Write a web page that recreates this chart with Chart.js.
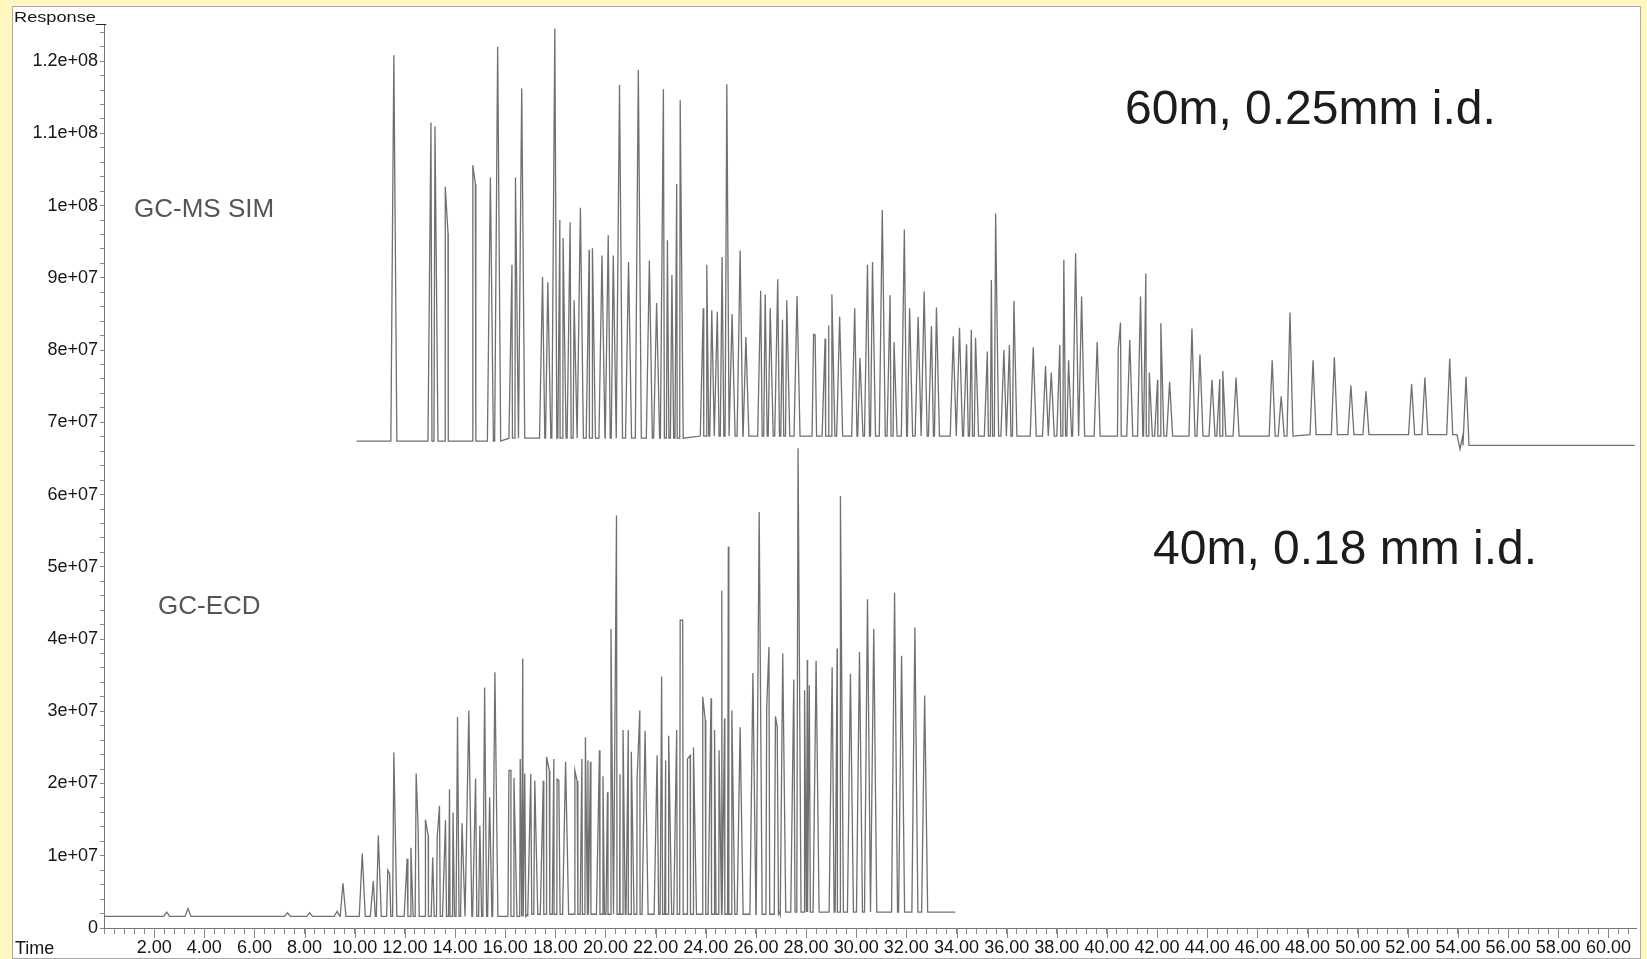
<!DOCTYPE html>
<html>
<head>
<meta charset="utf-8">
<title>GC-MS SIM / GC-ECD</title>
<script src="https://cdn.jsdelivr.net/npm/chart.js@4.4.1/dist/chart.umd.min.js"></script>
<style>
  html, body { margin: 0; padding: 0; }
  body { width: 1647px; height: 959px; background: #fff7bf; position: relative; overflow: hidden; }
  #panel { position: absolute; left: 12px; top: 6px; width: 1627px; height: 951px; background: #fff; border: 1px solid #a9a9a9; }
  #wrap { position: relative; width: 1627px; height: 951px; }
</style>
</head>
<body>
<div id="panel"><div id="wrap"><canvas id="gc"></canvas></div></div>
<script>
// retention time (min) and apex response (millions of counts)
const msPeakTimes = [11.56, 13.04, 13.20, 13.61, 13.72, 14.71, 14.81, 15.41, 15.70, 16.27, 16.41, 16.66,
  17.49, 17.70, 17.98, 18.18, 18.31, 18.59, 18.75, 19.00, 19.35, 19.48, 19.86, 20.11, 20.31, 20.56,
  20.92, 21.31, 21.75, 22.04, 22.31, 22.47, 22.65, 22.84, 22.98, 23.90, 24.04, 24.24, 24.46, 24.65,
  24.84, 25.05, 25.37, 25.60, 26.19, 26.37, 26.57, 26.87, 27.06, 27.23, 27.64, 28.30, 28.36, 28.76,
  28.90, 29.03, 29.34, 29.94, 30.15, 30.45, 30.65, 31.04, 31.35, 31.51, 31.92, 32.13, 32.47, 32.71,
  33.00, 33.20, 33.87, 34.12, 34.40, 34.59, 34.76, 35.23, 35.39, 35.56, 35.89, 36.11, 36.29, 37.06,
  37.55, 37.78, 38.12, 38.28, 38.47, 38.75, 38.99, 39.61, 40.45, 40.54, 40.91, 41.34, 41.55, 41.69,
  42.02, 42.15, 42.50, 43.39, 43.71, 44.19, 44.50, 44.62, 45.15, 46.59, 46.95, 47.30, 48.22, 49.07,
  49.73, 50.33, 52.15, 52.68, 53.67, 54.08, 54.32];
const msPeakHeights = [120.8, 111.5, 111.0, 102.6, 96.2, 105.6, 103.0, 103.9, 122.0, 91.8, 103.9, 116.2,
  90.1, 89.4, 124.5, 98.0, 95.5, 97.7, 86.9, 99.7, 93.9, 94.1, 93.1, 95.9, 93.1, 116.7,
  92.2, 118.8, 92.4, 86.5, 116.1, 95.2, 90.4, 103.0, 114.6, 85.8, 91.8, 85.5, 85.3, 92.9,
  116.8, 85.0, 93.8, 81.8, 88.2, 87.7, 85.8, 89.8, 84.2, 86.9, 87.5, 82.2, 82.1, 81.6,
  83.4, 87.7, 84.6, 85.8, 78.9, 91.8, 92.2, 99.4, 87.6, 81.1, 96.7, 85.8, 84.6, 88.1,
  83.3, 85.9, 81.9, 83.1, 80.8, 82.8, 81.7, 79.8, 89.7, 98.9, 80.0, 80.7, 86.8, 80.4,
  77.8, 76.9, 80.7, 92.5, 78.6, 93.4, 87.4, 81.1, 80.1, 83.8, 81.4, 87.4, 90.6, 76.9,
  75.9, 83.7, 75.6, 83.0, 79.4, 75.9, 76.0, 77.1, 76.2, 78.6, 73.6, 85.2, 78.6, 79.0,
  75.1, 74.3, 75.3, 76.2, 78.8, 66.3, 76.3];
// baseline level of the MS trace from each time on
const msBaseTimes = [10.07, 16.0, 23.0, 48.0, 54.1];
const msBaseLevels = [67.4, 67.8, 68.1, 68.3, 66.8];
const msRange = [10.07, 61.05];

const ecdPeakTimes = [2.50, 3.35, 7.32, 8.20, 9.30, 9.53, 10.30, 10.74, 10.94, 11.32, 11.39, 11.56,
  12.09, 12.24, 12.45, 12.53, 12.82, 12.93, 13.11, 13.29, 13.38, 13.62, 13.78, 13.92, 14.10, 14.28,
  14.55, 14.82, 14.99, 15.18, 15.38, 15.59, 16.15, 16.23, 16.35, 16.60, 16.70, 16.78, 17.02, 17.18,
  17.52, 17.66, 17.76, 17.94, 18.07, 18.14, 18.41, 18.78, 18.87, 19.06, 19.20, 19.30, 19.40, 19.76,
  19.90, 20.08, 20.22, 20.44, 20.58, 20.70, 20.91, 21.03, 21.26, 21.37, 21.58, 22.06, 22.24, 22.40,
  22.52, 22.84, 22.98, 23.08, 23.27, 23.38, 23.51, 23.88, 23.98, 24.21, 24.35, 24.53, 24.64, 24.75,
  24.90, 25.04, 25.37, 25.88, 26.13, 26.43, 26.52, 26.78, 26.85, 27.07, 27.51, 27.68, 27.94, 28.05,
  28.13, 28.40, 29.04, 29.24, 29.37, 29.77, 30.13, 30.45, 30.70, 31.53, 31.81, 32.34, 32.73];
const ecdPeakHeights = [2.2, 2.7, 2.1, 2.1, 2.3, 6.2, 10.3, 6.5, 12.8, 8.0, 7.5, 24.3,
  9.6, 11.1, 21.4, 13.7, 15.0, 12.8, 9.8, 12.6, 16.9, 14.9, 19.2, 16.0, 29.2, 14.5,
  30.1, 20.7, 14.2, 33.3, 18.1, 35.4, 21.8, 21.8, 20.8, 23.4, 37.3, 21.4, 21.3, 20.4,
  20.4, 23.7, 21.8, 23.4, 20.6, 20.4, 23.0, 21.8, 20.3, 23.4, 26.4, 23.2, 23.0, 24.6,
  21.0, 18.8, 41.4, 57.1, 21.3, 27.4, 27.4, 24.4, 20.5, 30.1, 27.3, 23.9, 34.8, 23.2,
  26.6, 27.4, 42.6, 42.6, 23.4, 23.9, 25.0, 32.0, 28.8, 31.8, 27.4, 24.6, 46.7, 29.0,
  52.8, 30.1, 27.8, 35.3, 57.6, 30.4, 38.9, 29.3, 27.8, 38.0, 34.4, 66.4, 32.9, 37.1,
  33.6, 37.0, 36.1, 38.7, 59.8, 35.2, 38.2, 45.5, 41.4, 46.4, 37.7, 41.6, 32.2];
const ecdBaseTimes = [0, 17.0, 27.0];
const ecdBaseLevels = [1.6, 1.9, 2.2];
const ecdRange = [0, 33.95];

// axis ticks: minor marks every 2e6 / 0.4 min, labels every 1e7 / 2 min
const yTickStep = 2e6;
const yTickTop = 1.24e8;
const yLabelEvery = 1e7;
const xTickStep = 0.4;
const xLabelEvery = 2;

const PEAK_HALF_WIDTH = 0.12;
const LINE_COLOR = '#707070';
const TEXT_COLOR = '#161616';
const FONT = "'Liberation Sans', Arial, sans-serif";

// each peak becomes foot - apex - foot on its baseline level
function buildTrace(range, baseTimes, baseLevels, peakTimes, peakHeights) {
  const levelAt = t => {
    let lv = baseLevels[0];
    baseTimes.forEach((bt, i) => { if (t >= bt) lv = baseLevels[i]; });
    return lv;
  };
  const pts = [{x: range[0], y: levelAt(range[0])}];
  peakTimes.forEach((t, i) => {
    const b = levelAt(t);
    pts.push({x: t - PEAK_HALF_WIDTH, y: b}, {x: t, y: peakHeights[i]}, {x: t + PEAK_HALF_WIDTH, y: b});
  });
  pts.push({x: range[1], y: levelAt(range[1])});
  return pts.sort((a, b) => a.x - b.x).map(p => ({x: p.x, y: p.y * 1e6}));
}

function sciLabel(v) {
  if (v === 0) return '0';
  const [m, e] = v.toExponential().split('e');
  return m + 'e' + e[0] + e.slice(1).padStart(2, '0');
}

const yTicks = [];
for (let k = 0; k * yTickStep <= yTickTop; k++) yTicks.push(k * yTickStep);

const decorations = {
  id: 'decorations',
  afterDraw(chart) {
    const ctx = chart.ctx;
    const xs = chart.scales.x;
    const bottom = chart.chartArea.bottom;
    ctx.save();
    // longer marks under the labelled minutes
    ctx.strokeStyle = '#888';
    ctx.lineWidth = 1;
    ctx.beginPath();
    for (let t = xLabelEvery; t <= 60; t += xLabelEvery) {
      const px = Math.round(xs.getPixelForValue(t)) + 0.5;
      ctx.moveTo(px, bottom);
      ctx.lineTo(px, bottom + 10);
    }
    ctx.stroke();

    ctx.fillStyle = TEXT_COLOR;
    ctx.font = '18px ' + FONT;
    ctx.textBaseline = 'middle';
    ctx.fillText('Time', 2, 942);

    // small, wide caption above the response axis
    ctx.save();
    ctx.font = '14px ' + FONT;
    ctx.textBaseline = 'alphabetic';
    const w = ctx.measureText('Response_').width;
    ctx.translate(1, 15);
    ctx.scale(92 / w, 1);
    ctx.fillText('Response_', 0, 0);
    ctx.restore();

    ctx.textBaseline = 'alphabetic';
    ctx.fillStyle = '#1c1c1c';
    ctx.font = '48px ' + FONT;
    ctx.fillText('60m, 0.25mm i.d.', 1112, 117);
    ctx.fillText('40m, 0.18 mm i.d.', 1140, 557);

    ctx.fillStyle = '#555';
    ctx.font = '26px ' + FONT;
    ctx.fillText('GC-MS SIM', 121, 210);
    ctx.fillText('GC-ECD', 145, 607);
    ctx.restore();
  }
};

new Chart(document.getElementById('gc'), {
  type: 'line',
  data: {
    datasets: [
      {
        label: 'GC-MS SIM',
        data: buildTrace(msRange, msBaseTimes, msBaseLevels, msPeakTimes, msPeakHeights),
        borderColor: LINE_COLOR,
        borderWidth: 1.3,
        pointRadius: 0,
        tension: 0
      },
      {
        label: 'GC-ECD',
        data: buildTrace(ecdRange, ecdBaseTimes, ecdBaseLevels, ecdPeakTimes, ecdPeakHeights),
        borderColor: LINE_COLOR,
        borderWidth: 1.3,
        pointRadius: 0,
        tension: 0
      }
    ]
  },
  options: {
    responsive: true,
    maintainAspectRatio: false,
    animation: false,
    events: [],
    layout: { padding: { left: 0, right: 4, top: 18, bottom: 0 } },
    plugins: {
      legend: { display: false },
      tooltip: { enabled: false }
    },
    scales: {
      x: {
        type: 'linear',
        min: 0,
        max: 61.1,
        afterFit(scale) { scale.height = 30; },
        border: { display: true, color: '#777', width: 1 },
        grid: { drawOnChartArea: false, drawTicks: true, tickLength: 6, tickColor: '#888' },
        ticks: {
          stepSize: xTickStep,
          includeBounds: false,
          autoSkip: false,
          maxRotation: 0,
          minRotation: 0,
          padding: 3,
          color: TEXT_COLOR,
          font: { family: FONT, size: 18 },
          callback(v) {
            const k = Math.round(v * 10);
            return (k > 0 && k % (xLabelEvery * 10) === 0) ? (k / 10).toFixed(2) : '';
          }
        }
      },
      y: {
        min: 0,
        max: 1.25e8,
        afterFit(scale) { scale.width = 91; },
        afterBuildTicks(scale) { scale.ticks = yTicks.map(value => ({ value })); },
        border: { display: true, color: '#777', width: 1 },
        grid: { drawOnChartArea: false, drawTicks: true, tickLength: 4, tickColor: '#888' },
        ticks: {
          autoSkip: false,
          padding: 2,
          color: TEXT_COLOR,
          font: { family: FONT, size: 18 },
          callback(v) { return Math.round(v) % yLabelEvery === 0 ? sciLabel(Math.round(v)) : ''; }
        }
      }
    }
  },
  plugins: [decorations]
});
</script>
</body>
</html>
